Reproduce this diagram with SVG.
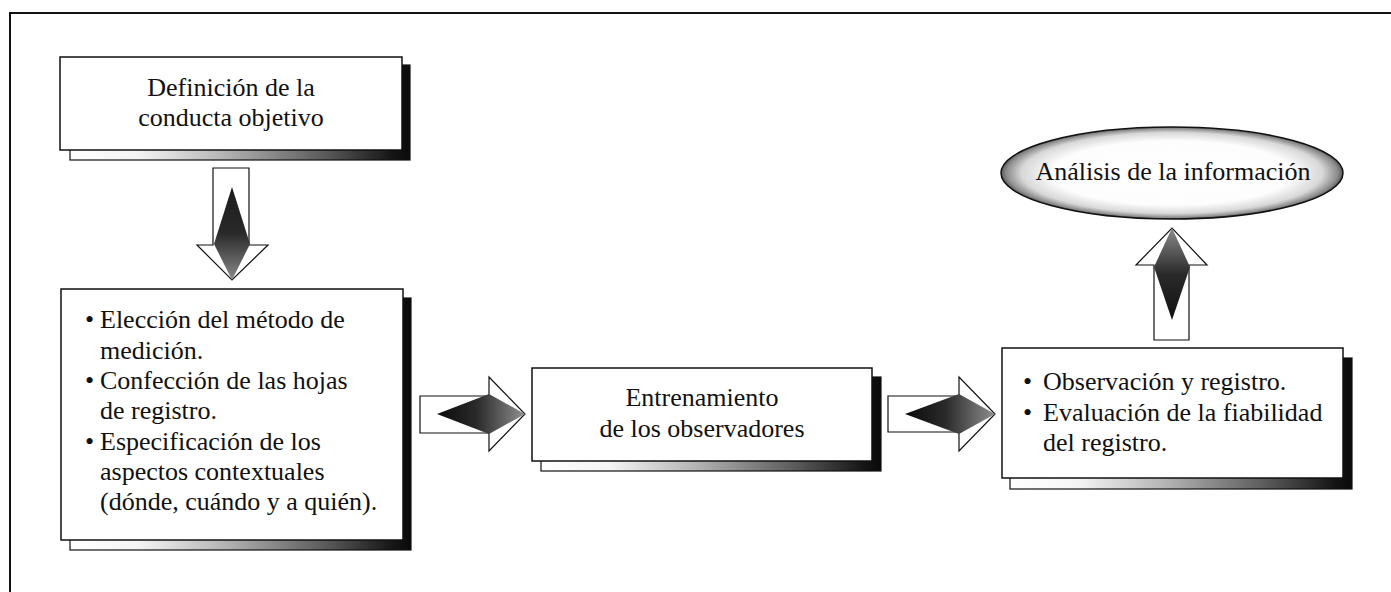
<svg xmlns="http://www.w3.org/2000/svg" width="1391" height="592" viewBox="0 0 1391 592">
  <defs>
    <style>
      .box { fill: #ffffff; stroke: #111111; stroke-width: 1.5; }
      .shadow { fill: url(#shadowGrad); stroke: #111111; stroke-width: 1.2; }
      .t { font-size: 26px; fill: #111111; }
      .c { text-anchor: middle; }
      .arrow { fill: #ffffff; stroke: #111111; stroke-width: 1.2; stroke-linejoin: miter; }
      .frame { fill: none; stroke: #111111; stroke-width: 2; }
    </style>
    <linearGradient id="shadowGrad" x1="0" y1="0" x2="1" y2="0">
      <stop offset="0" stop-color="#ffffff"/>
      <stop offset="0.2" stop-color="#f4f4f4"/>
      <stop offset="0.45" stop-color="#b5b5b5"/>
      <stop offset="0.75" stop-color="#5a5a5a"/>
      <stop offset="0.95" stop-color="#151515"/>
      <stop offset="1" stop-color="#0a0a0a"/>
    </linearGradient>
    <linearGradient id="kiteDown" x1="0" y1="0" x2="0" y2="1">
      <stop offset="0" stop-color="#1a1a1a"/>
      <stop offset="0.5" stop-color="#2a2a2a"/>
      <stop offset="1" stop-color="#8a8a8a"/>
    </linearGradient>
    <linearGradient id="kiteUp" x1="0" y1="1" x2="0" y2="0">
      <stop offset="0" stop-color="#111111"/>
      <stop offset="0.5" stop-color="#2a2a2a"/>
      <stop offset="1" stop-color="#8a8a8a"/>
    </linearGradient>
    <linearGradient id="kiteRight" x1="0" y1="0" x2="1" y2="0">
      <stop offset="0" stop-color="#0a0a0a"/>
      <stop offset="0.45" stop-color="#2a2a2a"/>
      <stop offset="1" stop-color="#8f8f8f"/>
    </linearGradient>
    <radialGradient id="ellGrad" cx="0.5" cy="0.5" r="0.5">
      <stop offset="0" stop-color="#ffffff"/>
      <stop offset="0.7" stop-color="#fdfdfd"/>
      <stop offset="0.88" stop-color="#d8d8d8"/>
      <stop offset="0.97" stop-color="#8a8a8a"/>
      <stop offset="1" stop-color="#5a5a5a"/>
    </radialGradient>
  </defs>

  <rect x="0" y="0" width="1391" height="592" fill="#ffffff"/>

  <g id="frame">
    <path class="frame" d="M10,592 L10,13 L1391,13"/>
  </g>

  <g id="connectors">
    <g id="arrow-down">
      <polygon class="arrow" points="213,168 249,168 249,245 268,245 232,280 197,245 213,245"/>
      <polygon points="232,187 250,244 232,280 214,244" fill="url(#kiteDown)"/>
    </g>
    <g id="arrow-right-1">
      <polygon class="arrow" points="420,396 489,396 489,377 525,414 489,451 489,433 420,433"/>
      <polygon points="437,414 489,394 525,414 489,434" fill="url(#kiteRight)"/>
    </g>
    <g id="arrow-right-2">
      <polygon class="arrow" points="888,396 959,396 959,377 995,414 959,451 959,432 888,432"/>
      <polygon points="905,414 959,394 995,414 959,434" fill="url(#kiteRight)"/>
    </g>
    <g id="arrow-up">
      <polygon class="arrow" points="1154,340 1189,340 1189,265 1207,265 1172,228 1136,265 1154,265"/>
      <polygon points="1172,228 1190,267 1172,320 1154,267" fill="url(#kiteUp)"/>
    </g>
  </g>

  <g font-family="'Liberation Serif', 'DejaVu Serif', serif">
  <g id="node-definicion">
    <rect class="shadow" x="70" y="65" width="340" height="95"/>
    <rect class="box" x="60" y="57" width="342" height="93"/>
    <text class="t c" x="231" y="95.5">Definición de la</text>
    <text class="t c" x="231" y="126">conducta objetivo</text>
  </g>

  <g id="node-eleccion">
    <rect class="shadow" x="70" y="298" width="341" height="252"/>
    <rect class="box" x="61" y="289" width="342" height="251"/>
    <text class="t" x="85" y="328">•</text>
    <text class="t" x="100" y="328">Elección del método de</text>
    <text class="t" x="100" y="358.5">medición.</text>
    <text class="t" x="85" y="389">•</text>
    <text class="t" x="100" y="389">Confección de las hojas</text>
    <text class="t" x="100" y="419">de registro.</text>
    <text class="t" x="85" y="449.5">•</text>
    <text class="t" x="100" y="449.5">Especificación de los</text>
    <text class="t" x="100" y="480">aspectos contextuales</text>
    <text class="t" x="100" y="510">(dónde, cuándo y a quién).</text>
  </g>

  <g id="node-entrenamiento">
    <rect class="shadow" x="541" y="377" width="340" height="94"/>
    <rect class="box" x="532" y="368" width="340" height="93"/>
    <text class="t c" x="702" y="405.5">Entrenamiento</text>
    <text class="t c" x="702" y="437">de los observadores</text>
  </g>

  <g id="node-observacion">
    <rect class="shadow" x="1010" y="358" width="342" height="131"/>
    <rect class="box" x="1002" y="348" width="341" height="130"/>
    <text class="t" x="1023" y="390">•</text>
    <text class="t" x="1043" y="390">Observación y registro.</text>
    <text class="t" x="1023" y="420.5">•</text>
    <text class="t" x="1043" y="420.5">Evaluación de la fiabilidad</text>
    <text class="t" x="1043" y="451">del registro.</text>
  </g>

  <g id="node-analisis">
    <ellipse cx="1172" cy="173" rx="171" ry="46" fill="url(#ellGrad)" stroke="#111111" stroke-width="1.5"/>
    <text class="t c" x="1173" y="180">Análisis de la información</text>
  </g>
  </g>
</svg>
